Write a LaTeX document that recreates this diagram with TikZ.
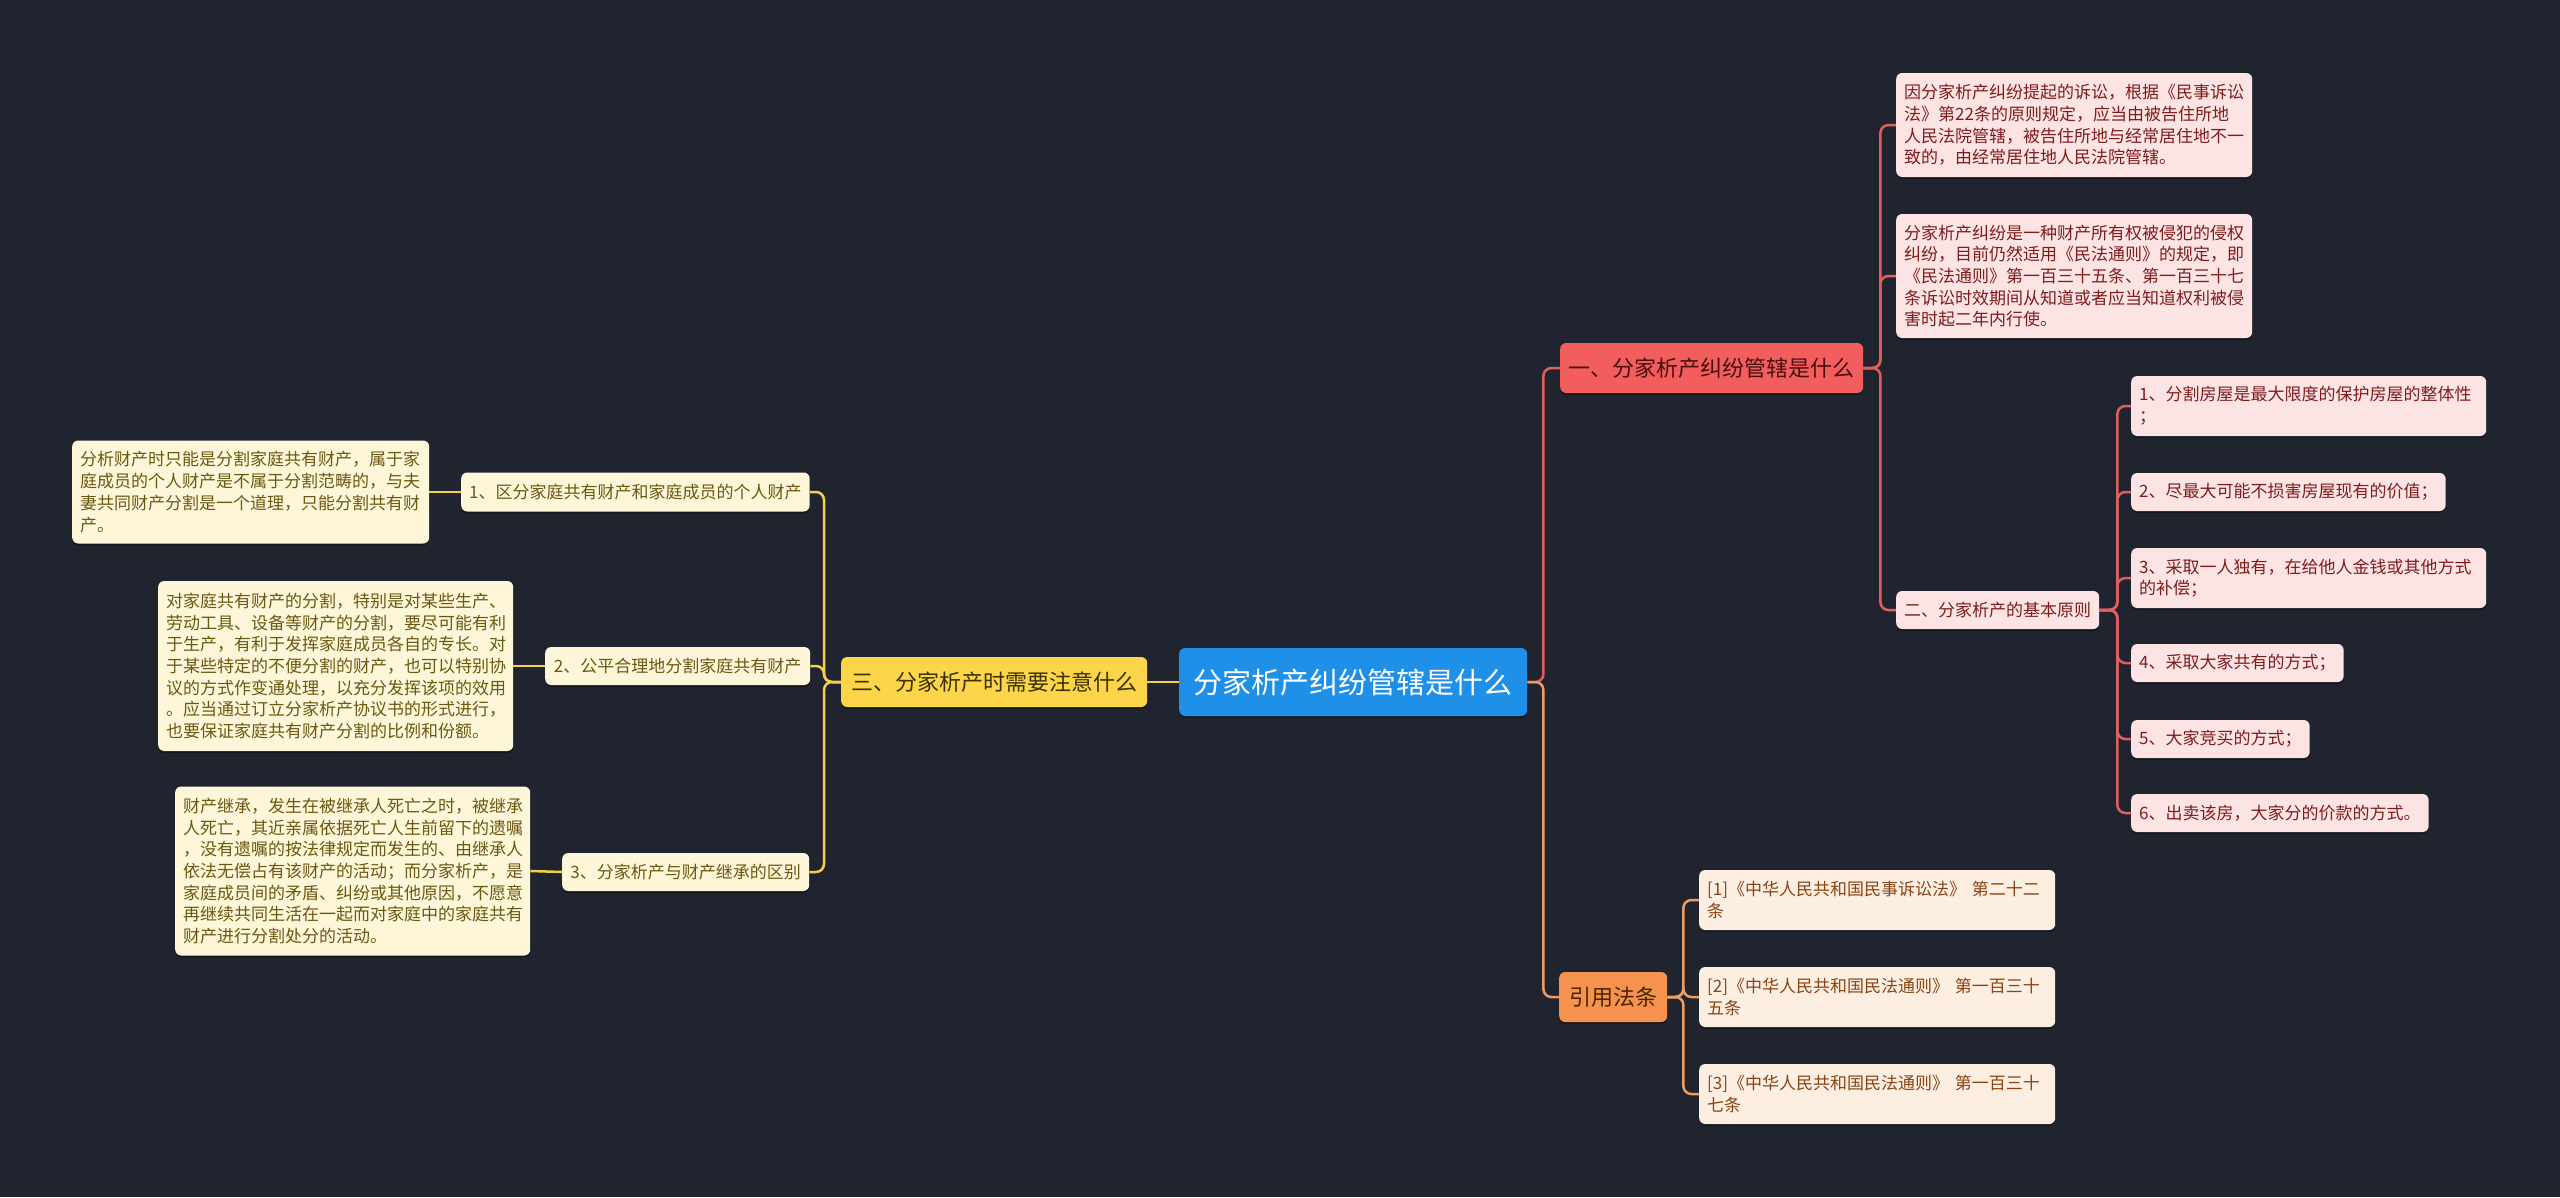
\documentclass[tikz,border=0pt]{standalone}
\usepackage{fontspec}
\newfontfamily\cjk{Noto Sans CJK SC}
\usetikzlibrary{shadows}
\definecolor{bg}{HTML}{20242F}
\definecolor{rootfill}{HTML}{1E90E8}
\definecolor{redfill}{HTML}{F25E5E}
\definecolor{redtext}{HTML}{4A0E0E}
\definecolor{rleaffill}{HTML}{FDE4E4}
\definecolor{rleaftext}{HTML}{7E1C1C}
\definecolor{redline}{HTML}{E0605E}
\definecolor{yelfill}{HTML}{FDD54A}
\definecolor{yeltext}{HTML}{3A3000}
\definecolor{yleaffill}{HTML}{FEF6D8}
\definecolor{yleaftext}{HTML}{6B5812}
\definecolor{yelline}{HTML}{F2CF4C}
\definecolor{orafill}{HTML}{F5934E}
\definecolor{oratext}{HTML}{4A2400}
\definecolor{oleaffill}{HTML}{FDEEE2}
\definecolor{oleaftext}{HTML}{884414}
\definecolor{oraline}{HTML}{EE9C60}
\begin{document}
\begin{tikzpicture}[x=1pt,y=-1pt,
  box/.style={rounded corners=6pt, inner xsep=8pt, inner ysep=0pt, anchor=west,
    font=\cjk\fontsize{17pt}{21.7pt}\selectfont, align=left,
    drop shadow={shadow xshift=0pt, shadow yshift=-2pt, fill=black, opacity=0.35}},
  rleaf/.style={box, fill=rleaffill, text=rleaftext},
  yleaf/.style={box, fill=yleaffill, text=yleaftext},
  oleaf/.style={box, fill=oleaffill, text=oleaftext},
  big/.style={box, align=center, font=\cjk\fontsize{22pt}{26pt}\selectfont},
  rline/.style={draw=redline, line width=2.5pt, rounded corners=8pt},
  yline/.style={draw=yelline, line width=2.5pt, rounded corners=8pt},
  oline/.style={draw=oraline, line width=2.5pt, rounded corners=8pt}]
\fill[bg] (0,0) rectangle (2560,1197);
\useasboundingbox (0,0) rectangle (2560,1197);

% root
\node[box, fill=rootfill, text=white, align=center, minimum width=348pt, minimum height=68pt,
  font=\cjk\fontsize{29pt}{34pt}\selectfont] (root) at (1179,682) {分家析产纠纷管辖是什么};

% right: first branch
\node[big, fill=redfill, text=redtext, minimum width=303pt, minimum height=50pt] (n1) at (1560,368) {一、分家析产纠纷管辖是什么};
\node[rleaf, text width=340pt, minimum height=104pt] (r1) at (1896,125) {因分家析产纠纷提起的诉讼，根据《民事诉讼\\法》第22条的原则规定，应当由被告住所地\\人民法院管辖，被告住所地与经常居住地不一\\致的，由经常居住地人民法院管辖。};
\node[rleaf, text width=340pt, minimum height=124pt] (r2) at (1896,276) {分家析产纠纷是一种财产所有权被侵犯的侵权\\纠纷，目前仍然适用《民法通则》的规定，即\\《民法通则》第一百三十五条、第一百三十七\\条诉讼时效期间从知道或者应当知道权利被侵\\害时起二年内行使。};
\node[rleaf, minimum width=202pt, minimum height=38pt] (n2) at (1896,610) {二、分家析产的基本原则};
\node[rleaf, text width=339pt, minimum height=60pt] (p1) at (2131,406) {1、分割房屋是最大限度的保护房屋的整体性\\；};
\node[rleaf, minimum width=314pt, minimum height=38pt] (p2) at (2131,492) {2、尽最大可能不损害房屋现有的价值；};
\node[rleaf, text width=339pt, minimum height=60pt] (p3) at (2131,578) {3、采取一人独有，在给他人金钱或其他方式\\的补偿；};
\node[rleaf, minimum width=212pt, minimum height=38pt] (p4) at (2131,663) {4、采取大家共有的方式；};
\node[rleaf, minimum width=178pt, minimum height=38pt] (p5) at (2131,739) {5、大家竞买的方式；};
\node[rleaf, minimum width=297pt, minimum height=38pt] (p6) at (2131,813) {6、出卖该房，大家分的价款的方式。};

% right: references
\node[big, fill=orafill, text=oratext, minimum width=108pt, minimum height=50pt] (n3) at (1559,997) {引用法条};
\node[oleaf, text width=340pt, minimum height=60pt] (c1) at (1699,900) {[1]《中华人民共和国民事诉讼法》 第二十二\\条};
\node[oleaf, text width=340pt, minimum height=60pt] (c2) at (1699,997) {[2]《中华人民共和国民法通则》 第一百三十\\五条};
\node[oleaf, text width=340pt, minimum height=60pt] (c3) at (1699,1094) {[3]《中华人民共和国民法通则》 第一百三十\\七条};

% left branch
\node[big, fill=yelfill, text=yeltext, minimum width=306pt, minimum height=50pt] (n4) at (841,682) {三、分家析产时需要注意什么};
\node[yleaf, minimum width=348pt, minimum height=39pt] (s1) at (461,492) {1、区分家庭共有财产和家庭成员的个人财产};
\node[yleaf, minimum width=265pt, minimum height=38pt] (s2) at (545,666) {2、公平合理地分割家庭共有财产};
\node[yleaf, minimum width=247pt, minimum height=38pt] (s3) at (562,872) {3、分家析产与财产继承的区别};
\node[yleaf, text width=341pt, minimum height=103pt] (l1) at (72,492) {分析财产时只能是分割家庭共有财产，属于家\\庭成员的个人财产是不属于分割范畴的，与夫\\妻共同财产分割是一个道理，只能分割共有财\\产。};
\node[yleaf, text width=339pt, minimum height=170pt] (l2) at (158,666) {对家庭共有财产的分割，特别是对某些生产、\\劳动工具、设备等财产的分割，要尽可能有利\\于生产，有利于发挥家庭成员各自的专长。对\\于某些特定的不便分割的财产，也可以特别协\\议的方式作变通处理，以充分发挥该项的效用\\。应当通过订立分家析产协议书的形式进行，\\也要保证家庭共有财产分割的比例和份额。};
\node[yleaf, text width=339pt, minimum height=169pt] (l3) at (175,871) {财产继承，发生在被继承人死亡之时，被继承\\人死亡，其近亲属依据死亡人生前留下的遗嘱\\，没有遗嘱的按法律规定而发生的、由继承人\\依法无偿占有该财产的活动；而分家析产，是\\家庭成员间的矛盾、纠纷或其他原因，不愿意\\再继续共同生活在一起而对家庭中的家庭共有\\财产进行分割处分的活动。};

% connectors
\draw[rline] (root.east) -- ++(16,0) |- (n1.west);
\draw[oline] (root.east) -- ++(16,0) |- (n3.west);
\draw[rline] (n1.east) -- ++(17,0) |- (r1.west);
\draw[rline] (n1.east) -- ++(17,0) |- (r2.west);
\draw[rline] (n1.east) -- ++(17,0) |- (n2.west);
\foreach \p in {p1,p2,p3,p4,p5,p6}
  \draw[rline] (n2.east) -- ++(18,0) |- (\p.west);
\foreach \c in {c1,c2,c3}
  \draw[oline] (n3.east) -- ++(16,0) |- (\c.west);
\draw[yline] (root.west) -- (n4.east);
\foreach \s in {s1,s2,s3}
  \draw[yline] (n4.west) -- ++(-17,0) |- (\s.east);
\draw[yline] (s1.west) -- (l1.east);
\draw[yline] (s2.west) -- (l2.east);
\draw[yline] (s3.west) -- (l3.east);
\end{tikzpicture}
\end{document}
